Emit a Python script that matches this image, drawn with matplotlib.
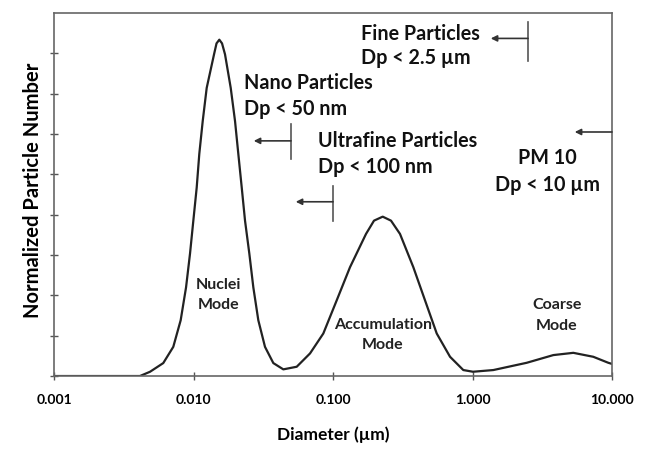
import matplotlib
matplotlib.use("Agg")
import matplotlib.pyplot as plt

plt.rcParams['font.family'] = ['Lato', 'DejaVu Sans']

# size distribution
diameter = [0.001, 0.003, 0.00413, 0.00488, 0.00607, 0.00716, 0.00809, 0.00884,
            0.00944, 0.00997, 0.01054, 0.01100, 0.01164, 0.01243, 0.01403, 0.01462,
            0.01531, 0.01601, 0.01682, 0.01848, 0.01984, 0.02095, 0.02216, 0.02340,
            0.02512, 0.02684, 0.02914, 0.03254, 0.03733, 0.04403, 0.05493,
            0.06842, 0.0852, 0.1063, 0.1324, 0.1724, 0.1967, 0.2271, 0.2604,
            0.3021, 0.3764, 0.4565, 0.554, 0.690, 0.859, 1.008,
            1.410, 2.446, 3.795, 5.280, 7.341, 9.408, 10.0]
number = [0.0, 0.0, 0.0, 0.106, 0.321, 0.723, 1.383, 2.198,
          3.037, 3.852, 4.674, 5.506, 6.321, 7.143, 7.975, 8.247,
          8.338, 8.247, 7.975, 7.143, 6.321, 5.506, 4.674, 3.852,
          3.037, 2.198, 1.383, 0.723, 0.321, 0.165, 0.230,
          0.560, 1.054, 1.877, 2.699, 3.523, 3.852, 3.951, 3.852,
          3.523, 2.699, 1.877, 1.054, 0.477, 0.148, 0.106,
          0.148, 0.328, 0.519, 0.575, 0.477, 0.328, 0.30]

xtick_vals = [0.001, 0.01, 0.1, 1, 10]
xtick_labels = ['0.001', '0.010', '0.100', '1.000', '10.000']

# size cut-offs: (diameter, arrow y, bar bottom, bar top)
cutoffs = [
    (2.5, 8.37, 7.80, 8.77),
    (0.05, 5.83, 5.38, 6.25),
    (0.1, 4.32, 3.85, 4.72),
    (10.0, 6.05, None, None),
]

fig = plt.figure(figsize=(6.54, 4.5), dpi=100)
ax = fig.add_axes([0.0826, 0.1644, 0.8532, 0.8067])

ax.plot(diameter, number, color='#222222', lw=1.6)

ax.set_xscale('log')
ax.set_xlim(0.001, 10)
ax.set_ylim(0, 9)
ax.set_xticks(xtick_vals)
ax.set_xticklabels(xtick_labels, fontweight='bold', fontsize=10)
ax.minorticks_off()
ax.set_yticks(range(0, 9))
ax.set_yticklabels([])
ax.tick_params(axis='both', direction='inout', length=6, width=1, color='#555555', pad=10)

for s in ax.spines.values():
    s.set_color('#666666')
    s.set_linewidth(1.2)

ax.set_xlabel('Diameter (µm)', fontweight='bold', fontsize=12.5, labelpad=15)
ax.set_ylabel('Normalized Particle Number', fontweight='bold', fontsize=14.5)
ax.yaxis.set_label_coords(-0.02, 0.512)

for d, ya, yb, yt in cutoffs:
    ax.annotate('', xy=(d / 1.85, ya), xytext=(d, ya),
                arrowprops=dict(arrowstyle='-|>', color='#333333', lw=1.2,
                                mutation_scale=9, shrinkA=0, shrinkB=0))
    if yb is not None:
        ax.plot([d, d], [yb, yt], color='#555555', lw=1.2)

big = dict(fontweight='bold', fontsize=14.2, va='center', color='#111111')
ax.text(0.159, 8.49, 'Fine Particles', ha='left', **big)
ax.text(0.159, 7.88, 'Dp < 2.5 µm', ha='left', **big)
ax.text(0.0230, 7.26, 'Nano Particles', ha='left', **big)
ax.text(0.0230, 6.62, 'Dp < 50 nm', ha='left', **big)
ax.text(0.078, 5.83, 'Ultrafine Particles', ha='left', **big)
ax.text(0.078, 5.19, 'Dp < 100 nm', ha='left', **big)
ax.text(3.42, 5.41, 'PM 10', ha='center', **big)
ax.text(3.42, 4.74, 'Dp < 10 µm', ha='center', **big)

small = dict(fontsize=11.5, fontweight='bold', va='center', ha='center', color='#222222')
ax.text(0.0152, 2.25, 'Nuclei', **small)
ax.text(0.0152, 1.75, 'Mode', **small)
ax.text(0.228, 1.26, 'Accumulation', **small)
ax.text(0.228, 0.77, 'Mode', **small)
ax.text(4.03, 1.75, 'Coarse', **small)
ax.text(4.03, 1.23, 'Mode', **small)

fig.savefig('out.png', dpi=100)
